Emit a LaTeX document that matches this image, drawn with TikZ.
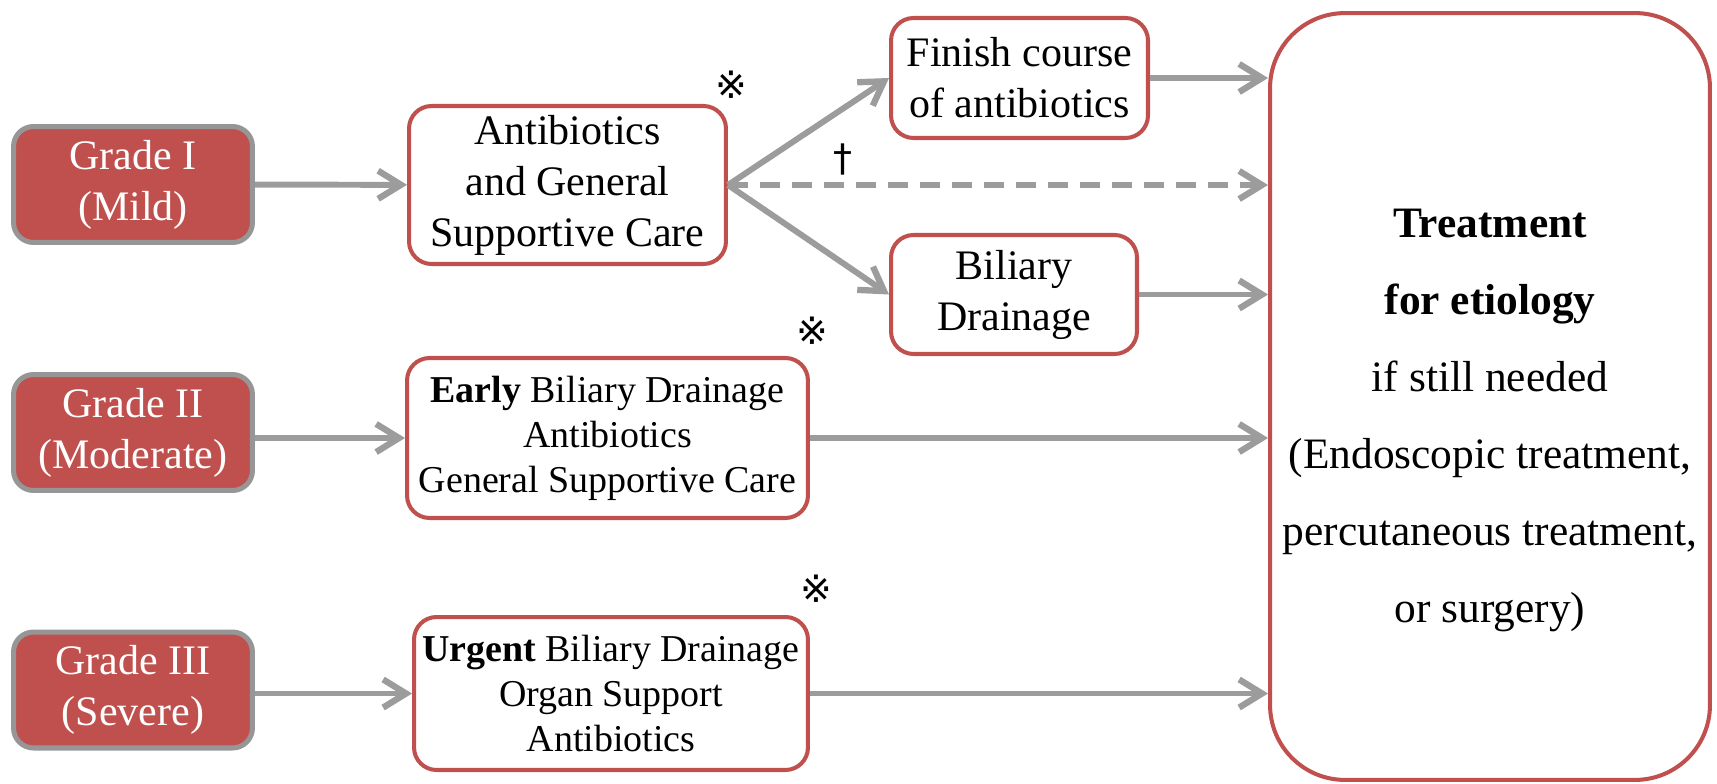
\documentclass[tikz,border=0pt]{standalone}
\usepackage{fontspec}
\setmainfont{Liberation Serif}
\newfontfamily\symfont{DejaVu Sans}
\usetikzlibrary{arrows.meta,positioning}
\definecolor{gradered}{HTML}{C0504D}
\definecolor{arrowgray}{HTML}{9C9C9C}
\definecolor{bordergray}{HTML}{969696}
\newcommand{\refmark}{{\symfont ※}}
\tikzstyle{grade} = [fill=gradered, draw=bordergray, line width=2.85pt, rounded corners=0.4cm, text=white, align=center, font=\fontsize{23.9}{29}\selectfont, minimum width=4.78cm, minimum height=2.32cm, inner sep=0pt]
\tikzstyle{care} = [draw=gradered, fill=white, line width=2.3pt, rounded corners=0.45cm, align=center, inner sep=0pt, font=\fontsize{23.9}{29}\selectfont]
\tikzstyle{carelist} = [care, font=\fontsize{21.6}{25.6}\selectfont]
\tikzstyle{flow} = [draw=arrowgray, line width=3.4pt, -{Straight Barb[length=13pt,width=16pt,line width=3.6pt]}]
\tikzstyle{notemark} = [inner sep=0pt, font=\fontsize{21.6}{25}\selectfont]

\begin{document}
\begin{tikzpicture}[x=0.02cm, y=-0.02cm]
	\useasboundingbox (0,0) rectangle (1717,784);
	\node [grade] (g1) at (133,184.5) {Grade I\\(Mild)};
	\node [grade] (g2) at (133,432.5) {Grade II\\(Moderate)};
	\node [grade] (g3) at (133,690) {Grade III\\(Severe)};
	\node [care, minimum width=6.34cm, minimum height=3.16cm] (anti) at (567.5,185) {Antibiotics\\and General\\Supportive Care};
	\node [care, minimum width=5.14cm, minimum height=2.40cm] (fin) at (1019.5,78) {Finish course\\of antibiotics};
	\node [care, minimum width=4.92cm, minimum height=2.38cm] (bil) at (1014,294.5) {Biliary\\Drainage};
	\node [carelist, minimum width=8.02cm, minimum height=3.20cm] (early) at (607.5,438) {\textbf{Early} Biliary Drainage\\Antibiotics\\General Supportive Care};
	\node [carelist, minimum width=7.88cm, minimum height=3.06cm] (urg) at (611,693.5) {\textbf{Urgent} Biliary Drainage\\Organ Support\\Antibiotics};
	\node [care, rounded corners=1.5cm, minimum width=8.80cm, minimum height=15.34cm] (treat) at (1490,396.5) {};
	\node [align=center, inner sep=0pt, font=\fontsize{24.7}{43.8}\selectfont] (treattext) at ([yshift=-0.48cm]treat.center) {\textbf{Treatment}\\\textbf{for etiology}\\if still needed\\(Endoscopic treatment,\\percutaneous treatment,\\or surgery)};
	\node [notemark] (m1) at (731,85) {\refmark};
	\node [notemark] (m2) at (812,331) {\refmark};
	\node [notemark] (m3) at (816,589) {\refmark};
	\node [notemark] (dag) at (843,159) {\symfont †};
	\draw [flow] (g1) -- (anti);
	\draw [flow] (g2.east |- early) -- (early);
	\draw [flow] (g3.east |- urg) -- (urg);
	\draw [flow] (anti.east) -- (fin.west);
	\draw [flow] (anti.east) -- (bil.west);
	\draw [flow, dash pattern=on 11.4pt off 6.8pt] (anti.east) -- (anti.east -| treat.west);
	\draw [flow] (fin.east) -- (fin.east -| treat.west);
	\draw [flow] (bil.east) -- (bil.east -| treat.west);
	\draw [flow] (early.east) -- (early.east -| treat.west);
	\draw [flow] (urg.east) -- (urg.east -| treat.west);
\end{tikzpicture}
\end{document}
